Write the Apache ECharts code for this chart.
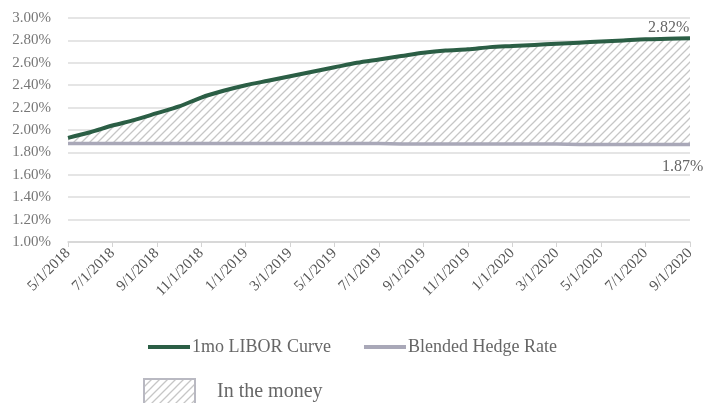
<!DOCTYPE html>
<html>
<head>
<meta charset="utf-8">
<script src="https://cdn.jsdelivr.net/npm/echarts@6/dist/echarts.min.js"></script>
<style>
  html, body { margin: 0; padding: 0; background: #fff; }
  #chart { width: 706px; height: 403px; }
</style>
</head>
<body>
<div id="chart"></div>
<script>
// Monthly dates, May 2018 through September 2020
const months = [
  '5/1/2018', '6/1/2018', '7/1/2018', '8/1/2018', '9/1/2018', '10/1/2018', '11/1/2018', '12/1/2018',
  '1/1/2019', '2/1/2019', '3/1/2019', '4/1/2019', '5/1/2019', '6/1/2019', '7/1/2019', '8/1/2019',
  '9/1/2019', '10/1/2019', '11/1/2019', '12/1/2019', '1/1/2020', '2/1/2020', '3/1/2020', '4/1/2020',
  '5/1/2020', '6/1/2020', '7/1/2020', '8/1/2020', '9/1/2020'
];

// 1-month LIBOR forward curve (%)
const liborCurve = [
  1.93, 1.98, 2.04, 2.09, 2.15, 2.21, 2.29, 2.35,
  2.40, 2.44, 2.48, 2.52, 2.56, 2.60, 2.63, 2.66,
  2.69, 2.71, 2.72, 2.74, 2.75, 2.76, 2.77, 2.78,
  2.79, 2.80, 2.81, 2.815, 2.82
];

// Blended hedge rate (%)
const hedgeRate = [
  1.88, 1.88, 1.88, 1.88, 1.88, 1.88, 1.88, 1.88,
  1.88, 1.88, 1.88, 1.88, 1.88, 1.88, 1.88, 1.875,
  1.875, 1.875, 1.875, 1.875, 1.875, 1.875, 1.875, 1.87,
  1.87, 1.87, 1.87, 1.87, 1.87
];

const seriesNames = ['1mo LIBOR Curve', 'Blended Hedge Rate', 'In the money'];

// diagonal hatch tile on a white ground
function hatchPattern() {
  const size = 8;
  const c = document.createElement('canvas');
  c.width = size; c.height = size;
  const ctx = c.getContext('2d');
  ctx.fillStyle = '#ffffff';
  ctx.fillRect(0, 0, size, size);
  ctx.strokeStyle = '#c6c6c6';
  ctx.lineWidth = 1.3;
  ctx.beginPath();
  ctx.moveTo(0, size); ctx.lineTo(size, 0);
  ctx.moveTo(-size / 2, size / 2); ctx.lineTo(size / 2, -size / 2);
  ctx.moveTo(size / 2, size * 1.5); ctx.lineTo(size * 1.5, size / 2);
  ctx.stroke();
  return { image: c, repeat: 'repeat' };
}

const FONT = '"Liberation Serif", "DejaVu Serif", serif';
const GREEN = '#2b5e45';
const GREY = '#a9a8b8';
const spread = liborCurve.map((v, i) => +(v - hedgeRate[i]).toFixed(4));
const pct = p => (Array.isArray(p.value) ? p.value[1] : p.value).toFixed(2) + '%';

const chart = echarts.init(document.getElementById('chart'));
chart.setOption({
  animation: false,
  grid: { left: 68, right: 16, top: 18, bottom: 161 },
  legend: [
    {
      data: [seriesNames[0], seriesNames[1]],
      left: 148, top: 338, padding: 0,
      itemWidth: 42, itemHeight: 4, itemGap: 33,
      icon: 'rect',
      textStyle: { fontFamily: FONT, fontSize: 18, color: '#666', padding: [0, 0, 0, -3] }
    },
    {
      data: [{ name: seriesNames[2], icon: 'rect' }],
      left: 143, top: 378, padding: 0,
      itemWidth: 51, itemHeight: 25, itemGap: 20,
      itemStyle: { color: hatchPattern(), borderColor: '#b9b9c2', borderWidth: 2 },
      textStyle: { fontFamily: FONT, fontSize: 20, color: '#666', padding: [0, 0, 0, 17] }
    }
  ],
  xAxis: {
    type: 'category',
    data: months,
    boundaryGap: false,
    axisLine: { lineStyle: { color: '#d4d4d4', width: 1.5 } },
    axisTick: { interval: 1, length: 5, lineStyle: { color: '#d4d4d4' } },
    axisLabel: {
      interval: 1, rotate: 45, margin: 9,
      fontFamily: FONT, fontSize: 15, color: '#555'
    },
    splitLine: { show: false }
  },
  yAxis: {
    type: 'value',
    min: 1.0, max: 3.0, interval: 0.2,
    axisLine: { show: false },
    axisTick: { show: false },
    axisLabel: {
      margin: 17,
      fontFamily: FONT, fontSize: 15, color: '#777',
      formatter: v => v.toFixed(2) + '%'
    },
    splitLine: { lineStyle: { color: '#dcdcdc', width: 1.5 } }
  },
  series: [
    {
      // base of the hatched band
      name: 'base', type: 'line', stack: 'band',
      data: hedgeRate, symbol: 'none', silent: true,
      lineStyle: { opacity: 0 }, z: 1
    },
    {
      name: seriesNames[2], type: 'line', stack: 'band',
      data: spread, symbol: 'none', silent: true,
      lineStyle: { opacity: 0 },
      itemStyle: { color: hatchPattern() },
      areaStyle: { color: hatchPattern(), opacity: 1 },
      z: 1
    },
    {
      name: seriesNames[1], type: 'line',
      data: hedgeRate,
      symbol: 'none',
      lineStyle: { color: GREY, width: 3.5 },
      itemStyle: { color: GREY },
      endLabel: {
        show: true, distance: 0, offset: [-28, 22],
        fontFamily: FONT, fontSize: 16, color: '#666',
        formatter: pct
      },
      z: 3
    },
    {
      name: seriesNames[0], type: 'line',
      data: liborCurve,
      symbol: 'none', smooth: 0.3,
      lineStyle: { color: GREEN, width: 4 },
      itemStyle: { color: GREEN },
      endLabel: {
        show: true, distance: 0, offset: [-42, -10],
        fontFamily: FONT, fontSize: 16, color: '#666',
        formatter: pct
      },
      z: 4
    }
  ]
});
</script>
</body>
</html>
